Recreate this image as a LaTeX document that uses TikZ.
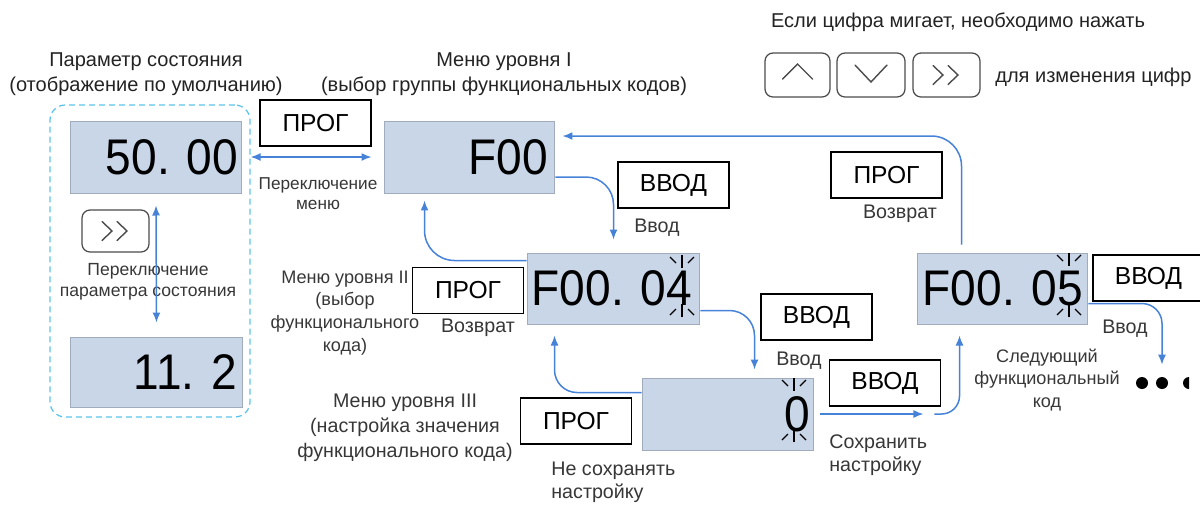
\documentclass[tikz,border=0pt]{standalone}
\usepackage{fontspec}
\setmainfont{Liberation Sans}
\newfontfamily\lcdfont[FakeStretch=0.92]{Liberation Sans}
\usetikzlibrary{arrows.meta}

\definecolor{lcdfill}{RGB}{200,214,232}
\definecolor{lcdborder}{RGB}{160,172,188}
\definecolor{flowblue}{RGB}{70,130,215}
\definecolor{dashcyan}{RGB}{90,195,235}
\definecolor{keygray}{RGB}{75,75,75}
\definecolor{textdark}{RGB}{35,35,35}
\definecolor{textgray}{RGB}{55,55,55}

\tikzset{
  lcd/.style={draw=lcdborder, fill=lcdfill, line width=0.02cm, inner sep=0pt},
  digits/.style={anchor=east, inner sep=0pt, font=\lcdfont\fontsize{28.5}{28.5}\selectfont},
  dashframe/.style={draw=dashcyan, line width=0.025cm, dash pattern=on 0.12cm off 0.08cm, rounded corners=0.3cm, inner sep=0pt},
  keybox/.style={draw=black, line width=0.03cm, minimum width=2.22cm, minimum height=0.92cm, inner sep=0pt, font=\fontsize{14}{14}\selectfont},
  keycap/.style={draw=keygray, line width=0.025cm, rounded corners=0.16cm, minimum height=0.86cm, inner sep=0pt},
  glyph/.style={draw=keygray, line width=0.028cm, line cap=round},
  rays/.style={draw=black, line width=0.022cm},
  flow/.style={draw=flowblue, line width=0.03cm, rounded corners=0.55cm},
  title/.style={align=center, inner sep=0pt, text=textdark, font=\fontsize{11.4}{14.2}\selectfont},
  note/.style={align=center, inner sep=0pt, text=textgray, font=\fontsize{11.2}{13}\selectfont},
  dotmark/.style={circle, fill=black, minimum size=0.24cm, inner sep=0pt},
}

% blinking digit: x, top of upper rays, bottom of lower rays
\newcommand{\blinkrays}[3]{%
  \draw [rays] (#1,#2) -- ++(0,13);%
  \draw [rays] (#1-12,#2+2) -- ++(6,6);%
  \draw [rays] (#1+12,#2+2) -- ++(-6,6);%
  \draw [rays] (#1,#3) -- ++(0,-13);%
  \draw [rays] (#1-12,#3-2) -- ++(6,-6);%
  \draw [rays] (#1+12,#3-2) -- ++(-6,-6);%
}

\begin{document}
\begin{tikzpicture}[x=0.02cm, y=-0.02cm, >={Latex[length=0.2cm,width=0.16cm]}]
                % \clip (0,0) rectangle (1200,505);
                \useasboundingbox (0,0) rectangle (1200,505);

                % Drawing frame of the state parameters
                \draw (150,261) node (statebox) [dashframe, minimum width=4cm, minimum height=6.24cm] {};%

                % Drawing displays
                \draw (156,157) node (dispA) [lcd, minimum width=3.44cm, minimum height=1.44cm] {};%
                \draw ([xshift=-0.08cm]dispA.east) node (valA) [digits] {50. 00};%
                \draw (156.5,372) node (dispB) [lcd, minimum width=3.46cm, minimum height=1.4cm] {};%
                \draw ([xshift=-0.12cm]dispB.east) node (valB) [digits] {11. 2};%
                \draw (469.5,157) node (dispF) [lcd, minimum width=3.42cm, minimum height=1.44cm] {};%
                \draw ([xshift=-0.14cm]dispF.east) node (valF) [digits] {F00};%
                \draw (613.5,288.5) node (dispG) [lcd, minimum width=3.46cm, minimum height=1.42cm] {};%
                \draw ([xshift=-0.16cm]dispG.east) node (valG) [digits] {F00. 04};%
                \draw (728,414) node (dispZ) [lcd, minimum width=3.44cm, minimum height=1.44cm] {};%
                \draw ([xshift=-0.08cm]dispZ.east) node (valZ) [digits] {0};%
                \draw (1002.5,288.5) node (dispH) [lcd, minimum width=3.42cm, minimum height=1.42cm] {};%
                \draw ([xshift=-0.1cm]dispH.east) node (valH) [digits] {F00. 05};%

                % Marking blinking digits
                \blinkrays{682}{255}{317}%
                \blinkrays{794}{378}{442}%
                \blinkrays{1069}{253}{317}%

                % Drawing keys PROG / ENTER
                \draw (315.5,123) node (progA) [keybox] {ПРОГ};%
                \draw (468,290.5) node (progB) [keybox] {ПРОГ};%
                \draw (576,421) node (progC) [keybox] {ПРОГ};%
                \draw (886.5,175) node (progD) [keybox] {ПРОГ};%
                \draw (673.5,185) node (enterA) [keybox] {ВВОД};%
                \draw (816.5,317) node (enterB) [keybox] {ВВОД};%
                \draw (885,383) node (enterC) [keybox] {ВВОД};%
                \draw (1148.5,278) node (enterD) [keybox] {ВВОД};%

                % Drawing keycaps
                \draw (115.5,231) node (keyShift) [keycap, minimum width=1.34cm, minimum height=0.84cm] {};%
                \draw (797.5,75) node (keyUp) [keycap, minimum width=1.3cm, minimum height=0.88cm] {};%
                \draw (871,75) node (keyDown) [keycap, minimum width=1.36cm, minimum height=0.88cm] {};%
                \draw (946.5,75) node (keyRight) [keycap, minimum width=1.34cm, minimum height=0.88cm] {};%
                \draw [glyph] ([xshift=-0.3cm,yshift=-0.08cm]keyUp.center) -- ([yshift=0.22cm]keyUp.center) -- ([xshift=0.3cm,yshift=-0.08cm]keyUp.center);%
                \draw [glyph] ([xshift=-0.32cm,yshift=0.2cm]keyDown.center) -- ([yshift=-0.14cm]keyDown.center) -- ([xshift=0.32cm,yshift=0.2cm]keyDown.center);%
                \foreach \k in {keyShift,keyRight} {
                  \draw [glyph] ([xshift=-0.27cm,yshift=0.19cm]\k.center) -- ([xshift=-0.07cm]\k.center) -- ([xshift=-0.27cm,yshift=-0.19cm]\k.center);%
                  \draw [glyph] ([xshift=0.03cm,yshift=0.19cm]\k.center) -- ([xshift=0.23cm]\k.center) -- ([xshift=0.03cm,yshift=-0.19cm]\k.center);%
                }

                % Marking titles and labels
                \draw (146,74) node (titleState) [title] {Параметр состояния\\(отображение по умолчанию)};%
                \draw (504,74) node (titleMenuI) [title] {Меню уровня I\\(выбор группы функциональных кодов)};%
                \draw (345,313) node (titleMenuII) [note, font=\fontsize{10.3}{13}\selectfont] {Меню уровня II\\(выбор\\функционального\\кода)};%
                \draw (405,428) node (titleMenuIII) [note, font=\fontsize{11.2}{14.2}\selectfont] {Меню уровня III\\(настройка значения\\функционального кода)};%
                \draw (318,194) node (noteSwitchMenu) [note, font=\fontsize{9.8}{11.4}\selectfont] {Переключение\\меню};%
                \draw (148,282) node (noteSwitchState) [note, font=\fontsize{10}{12}\selectfont] {Переключение\\параметра состояния};%
                \draw (657,228) node (lblEnterA) [note] {Ввод};%
                \draw (799,361) node (lblEnterB) [note] {Ввод};%
                \draw (1125,329) node (lblEnterD) [note] {Ввод};%
                \draw (478,328) node (lblBackB) [note] {Возврат};%
                \draw (900,214) node (lblBackD) [note] {Возврат};%
                \draw (829,455) node (lblSave) [note, anchor=west, align=left] {Сохранить\\настройку};%
                \draw (551,482) node (lblNoSave) [note, anchor=west, align=left] {Не сохранять\\настройку};%
                \draw (1047,380) node (lblNext) [note, font=\fontsize{10.3}{13}\selectfont] {Следующий\\функциональный\\код};%
                \draw (958,22) node (hintTop) [title] {Если цифра мигает, необходимо нажать};%
                \draw (995,77) node (hintBottom) [title, anchor=west] {для изменения цифр};%

                % Marking next codes by dots
                \draw (1142,383) node (dotA) [dotmark] {};%
                \draw (1162,383) node (dotB) [dotmark] {};%
                \fill (1189,377) arc (90:270:0.12cm) -- cycle;%

                % Drawing connectors
                \draw [flow, <->] (statebox.east |- dispF.west) -- ([xshift=-0.24cm]dispF.west);%
                \draw [flow, <->] ([yshift=-0.24cm]dispA.south) -- ([yshift=0.28cm]dispB.north);%
                \draw [flow, ->] ([yshift=-0.4cm]dispF.east) -| ([yshift=0.26cm]dispG.north);%
                \draw [flow, rounded corners=0.6cm, ->] ([yshift=-0.16cm]dispG.north west) -| ([xshift=0.82cm,yshift=-0.14cm]dispF.south west);%
                \draw [flow, rounded corners=0.5cm, ->] ([yshift=0.28cm]dispG.south east) -| ([xshift=2.26cm,yshift=0.16cm]dispZ.north west);%
                \draw [flow, rounded corners=0.45cm, ->] ([yshift=-0.3cm]dispZ.north west) -| ([xshift=0.56cm,yshift=-0.22cm]dispG.south west);%
                \coordinate (saveA) at ([xshift=2.18cm]dispZ.east);%
                \coordinate (saveB) at ([xshift=2.4cm]dispZ.east);%
                \draw [flow, ->] ([xshift=0.12cm]dispZ.east) -- (saveA);%
                \draw [flow, rounded corners=0.36cm, ->] (saveB) -| ([xshift=0.86cm,yshift=-0.22cm]dispH.south west);%
                \draw [flow, rounded corners=0.6cm, ->] ([xshift=0.9cm,yshift=0.16cm]dispH.north west) |- ([xshift=0.14cm,yshift=0.42cm]dispF.east);%
                \draw [flow, rounded corners=0.4cm, ->] ([yshift=0.42cm]dispH.south east) -| ([yshift=0.24cm]dotB.north);%
\end{tikzpicture}
\end{document}
